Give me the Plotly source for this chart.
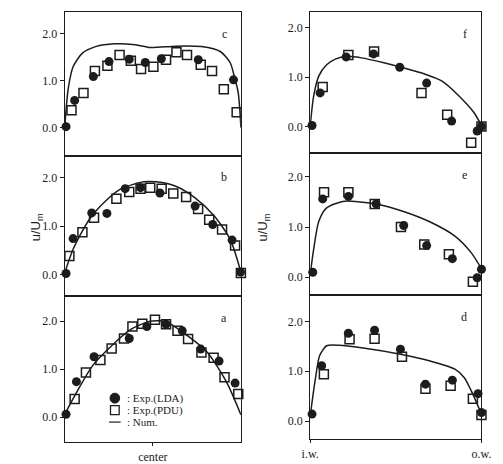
import plotly.graph_objects as go

# ---------------- data (normalized channel position 0..1) ----------------
# Left column: panels c (top), b (middle), a (bottom)
c_num_x = [0, 0.007, 0.02, 0.047, 0.10, 0.175, 0.284, 0.40, 0.485, 0.63, 0.776, 0.885, 0.94, 0.958, 0.985, 1.0]
c_num_y = [0, 0.38, 0.85, 1.30, 1.59, 1.73, 1.79, 1.77, 1.71, 1.74, 1.73, 1.62, 1.38, 1.16, 0.74, 0.0]
c_lda_x = [0.007, 0.056, 0.162, 0.251, 0.366, 0.457, 0.548, 0.758, 0.958, 1.005]
c_lda_y = [0.02, 0.58, 1.09, 1.41, 1.46, 1.39, 1.47, 1.45, 1.02, 0.02]
c_pdu_x = [0.038, 0.106, 0.171, 0.242, 0.311, 0.375, 0.433, 0.503, 0.575, 0.634, 0.694, 0.772, 0.836, 0.903, 0.976]
c_pdu_y = [0.37, 0.74, 1.21, 1.32, 1.55, 1.43, 1.25, 1.30, 1.45, 1.61, 1.55, 1.34, 1.21, 0.82, 0.33]

b_num_x = [0, 0.047, 0.138, 0.23, 0.32, 0.448, 0.52, 0.63, 0.74, 0.85, 0.94, 1.0]
b_num_y = [0.03, 0.52, 1.13, 1.51, 1.77, 1.91, 1.91, 1.82, 1.58, 1.20, 0.72, 0.05]
b_lda_x = [0.007, 0.047, 0.153, 0.239, 0.343, 0.43, 0.54, 0.74, 0.84, 0.95, 0.998]
b_lda_y = [0.02, 0.74, 1.27, 1.26, 1.77, 1.79, 1.68, 1.41, 1.03, 0.71, 0.05]
b_pdu_x = [0.026, 0.10, 0.166, 0.293, 0.366, 0.43, 0.485, 0.55, 0.616, 0.689, 0.757, 0.82, 0.893, 0.967, 1.0]
b_pdu_y = [0.38, 0.87, 1.17, 1.56, 1.70, 1.77, 1.79, 1.77, 1.67, 1.60, 1.35, 1.13, 0.93, 0.60, 0.03]

a_num_x = [0, 0.066, 0.157, 0.266, 0.375, 0.485, 0.575, 0.70, 0.81, 0.92, 1.0]
a_num_y = [0.06, 0.51, 1.07, 1.49, 1.83, 2.0, 1.99, 1.69, 1.35, 0.72, 0.05]
a_lda_x = [0.007, 0.066, 0.166, 0.366, 0.466, 0.575, 0.667, 0.772, 0.876, 0.967, 1.005]
a_lda_y = [0.06, 0.74, 1.26, 1.64, 1.89, 1.94, 1.80, 1.42, 1.17, 0.71, 0.03]
a_pdu_x = [0.056, 0.12, 0.202, 0.266, 0.336, 0.384, 0.44, 0.512, 0.575, 0.64, 0.70, 0.776, 0.845, 0.907, 0.985]
a_pdu_y = [0.38, 0.93, 1.19, 1.43, 1.64, 1.89, 1.95, 2.03, 1.94, 1.80, 1.63, 1.35, 1.24, 0.83, 0.48]

# Right column: panels f (top), e (middle), d (bottom); i.w. = 0, o.w. = 1
f_num_x = [0, 0.02, 0.05, 0.096, 0.15, 0.21, 0.30, 0.43, 0.53, 0.68, 0.77, 0.86, 0.957, 1.0]
f_num_y = [0.0, 0.61, 1.02, 1.25, 1.37, 1.42, 1.39, 1.29, 1.20, 1.05, 0.92, 0.65, 0.28, 0.02]
f_lda_x = [0.011, 0.058, 0.21, 0.37, 0.523, 0.68, 0.826, 0.975, 1.0]
f_lda_y = [0.02, 0.68, 1.41, 1.47, 1.20, 0.88, 0.11, -0.09, 0.0]
f_pdu_x = [0.073, 0.223, 0.373, 0.65, 0.80, 0.94, 1.0]
f_pdu_y = [0.80, 1.45, 1.52, 0.68, 0.24, -0.33, 0.0]

e_num_x = [0, 0.02, 0.05, 0.096, 0.19, 0.264, 0.40, 0.545, 0.695, 0.845, 0.94, 1.0]
e_num_y = [0.05, 0.55, 1.11, 1.38, 1.51, 1.51, 1.45, 1.31, 1.11, 0.82, 0.49, 0.17]
e_lda_x = [0.015, 0.073, 0.223, 0.385, 0.546, 0.68, 0.83, 0.975, 1.0]
e_lda_y = [0.10, 1.56, 1.61, 1.46, 1.03, 0.63, 0.37, -0.01, 0.16]
e_pdu_x = [0.081, 0.223, 0.377, 0.53, 0.666, 0.81, 0.95]
e_pdu_y = [1.69, 1.69, 1.46, 1.00, 0.65, 0.46, -0.09]

d_num_x = [0, 0.03, 0.055, 0.096, 0.17, 0.30, 0.527, 0.695, 0.845, 0.90, 0.94, 1.0]
d_num_y = [0.10, 0.84, 1.31, 1.51, 1.52, 1.47, 1.34, 1.21, 1.04, 0.87, 0.61, 0.14]
d_lda_x = [0.011, 0.067, 0.223, 0.376, 0.527, 0.673, 0.83, 0.98, 1.0]
d_lda_y = [0.14, 1.11, 1.76, 1.82, 1.44, 0.74, 0.82, 0.55, 0.17]
d_pdu_x = [0.08, 0.23, 0.376, 0.536, 0.673, 0.82, 0.95, 1.0]
d_pdu_y = [0.94, 1.64, 1.65, 1.29, 0.65, 0.71, 0.45, 0.12]

y_tickvals = [0, 1, 2]
y_ticktext = ["0.0", "1.0", "2.0"]
series_names = [": Exp.(LDA)", ": Exp.(PDU)", ": Num."]

# ---------------- layout geometry ----------------
W, H = 503, 464
def xd(a, b): return [a / W, b / W]
def yd(top, bot): return [1 - bot / H, 1 - top / H]
def px(x): return x / W
def py(y): return 1 - y / H

panels = [
    ("c", (c_num_x, c_num_y, c_lda_x, c_lda_y, c_pdu_x, c_pdu_y), (58, 241), (12, 156), (-0.60, 2.47), None),
    ("b", (b_num_x, b_num_y, b_lda_x, b_lda_y, b_pdu_x, b_pdu_y), (58, 241), (156, 297), (-0.45, 2.45), None),
    ("a", (a_num_x, a_num_y, a_lda_x, a_lda_y, a_pdu_x, a_pdu_y), (58, 241), (297, 443), (-0.52, 2.52), ([0.5], ["center"])),
    ("f", (f_num_x, f_num_y, f_lda_x, f_lda_y, f_pdu_x, f_pdu_y), (313, 491), (12, 153), (-0.53, 2.32), None),
    ("e", (e_num_x, e_num_y, e_lda_x, e_lda_y, e_pdu_x, e_pdu_y), (313, 491), (153, 296), (-0.36, 2.48), None),
    ("d", (d_num_x, d_num_y, d_lda_x, d_lda_y, d_pdu_x, d_pdu_y), (313, 491), (296, 440), (-0.36, 2.52), ([0, 1], ["i.w.", "o.w."])),
]

INK = "#1c1c1c"
FONT = "Liberation Serif"

fig = go.Figure()
layout = dict(
    width=W, height=H,
    margin=dict(l=0, r=0, t=0, b=0),
    paper_bgcolor="white", plot_bgcolor="white",
    font=dict(family=FONT, size=12, color=INK),
    annotations=[], shapes=[],
    showlegend=False,
)

for i, (letter, data, xdom, ydom, yr, xlab) in enumerate(panels):
    k = i + 1
    xa = "x" if k == 1 else f"x{k}"
    ya = "y" if k == 1 else f"y{k}"
    nx, ny, lx, ly, pxs, pys = data
    fig.add_trace(go.Scatter(x=pxs, y=pys, mode="markers", xaxis=xa, yaxis=ya,
                             name=series_names[1],
                             marker=dict(symbol="square-open", size=9, color=INK, line=dict(width=1.5)),
                             cliponaxis=False))
    fig.add_trace(go.Scatter(x=lx, y=ly, mode="markers", xaxis=xa, yaxis=ya,
                             name=series_names[0],
                             marker=dict(symbol="circle", size=9, color=INK),
                             cliponaxis=False))
    fig.add_trace(go.Scatter(x=nx, y=ny, mode="lines", xaxis=xa, yaxis=ya,
                             name=series_names[2],
                             line=dict(color=INK, width=1.5, shape="spline", smoothing=0.7)))

    xkey = "xaxis" if k == 1 else f"xaxis{k}"
    ykey = "yaxis" if k == 1 else f"yaxis{k}"
    xaxis = dict(domain=xd(*xdom), range=[0, 1], anchor=ya, showgrid=False, zeroline=False,
                 showline=True, linecolor=INK, linewidth=1.2, mirror=True, fixedrange=True)
    if xlab:
        xaxis.update(tickmode="array", tickvals=xlab[0], ticktext=xlab[1], ticks="outside",
                     ticklen=3, tickcolor=INK, tickfont=dict(family=FONT, size=12, color=INK))
    else:
        xaxis.update(showticklabels=False, ticks="")
    yaxis = dict(domain=yd(*ydom), range=list(yr), anchor=xa, showgrid=False, zeroline=False,
                 showline=True, linecolor=INK, linewidth=1.2, mirror=True,
                 tickmode="array", tickvals=y_tickvals, ticktext=y_ticktext,
                 ticks="outside", ticklen=4, tickcolor=INK,
                 tickfont=dict(family=FONT, size=12, color=INK), fixedrange=True)
    layout[xkey] = xaxis
    layout[ykey] = yaxis
    layout["annotations"].append(dict(text=letter, xref=f"{xa} domain", yref=f"{ya} domain",
                                      x=0.93, y=0.91, showarrow=False,
                                      font=dict(family=FONT, size=12, color=INK)))

# y-axis titles
for xt in (18, 265):
    layout["annotations"].append(dict(text="u/U<sub>m</sub>", xref="paper", yref="paper",
                                      x=px(xt), y=py(228), textangle=-90, showarrow=False,
                                      font=dict(family="Liberation Sans", size=13, color=INK)))

# manual legend (inside panel a)
leg_rows = [399, 411, 423]
layout["shapes"] += [
    dict(type="circle", xref="paper", yref="paper", x0=px(105), x1=px(115), y0=py(404), y1=py(394),
         fillcolor=INK, line=dict(color=INK, width=1)),
    dict(type="rect", xref="paper", yref="paper", x0=px(105.5), x1=px(114.5), y0=py(415.5), y1=py(406.5),
         fillcolor="white", line=dict(color=INK, width=1.3)),
    dict(type="line", xref="paper", yref="paper", x0=px(104), x1=px(116), y0=py(423), y1=py(423),
         line=dict(color=INK, width=1.2)),
]
for name, yr_ in zip(series_names, leg_rows):
    layout["annotations"].append(dict(text=name, xref="paper", yref="paper", x=px(121), y=py(yr_),
                                      xanchor="left", yanchor="middle", showarrow=False,
                                      font=dict(family=FONT, size=11, color=INK)))

fig.update_layout(**layout)
fig.write_html("out.html", config={"displayModeBar": False},
               post_script="document.body.style.margin='0';document.body.style.padding='0';")
